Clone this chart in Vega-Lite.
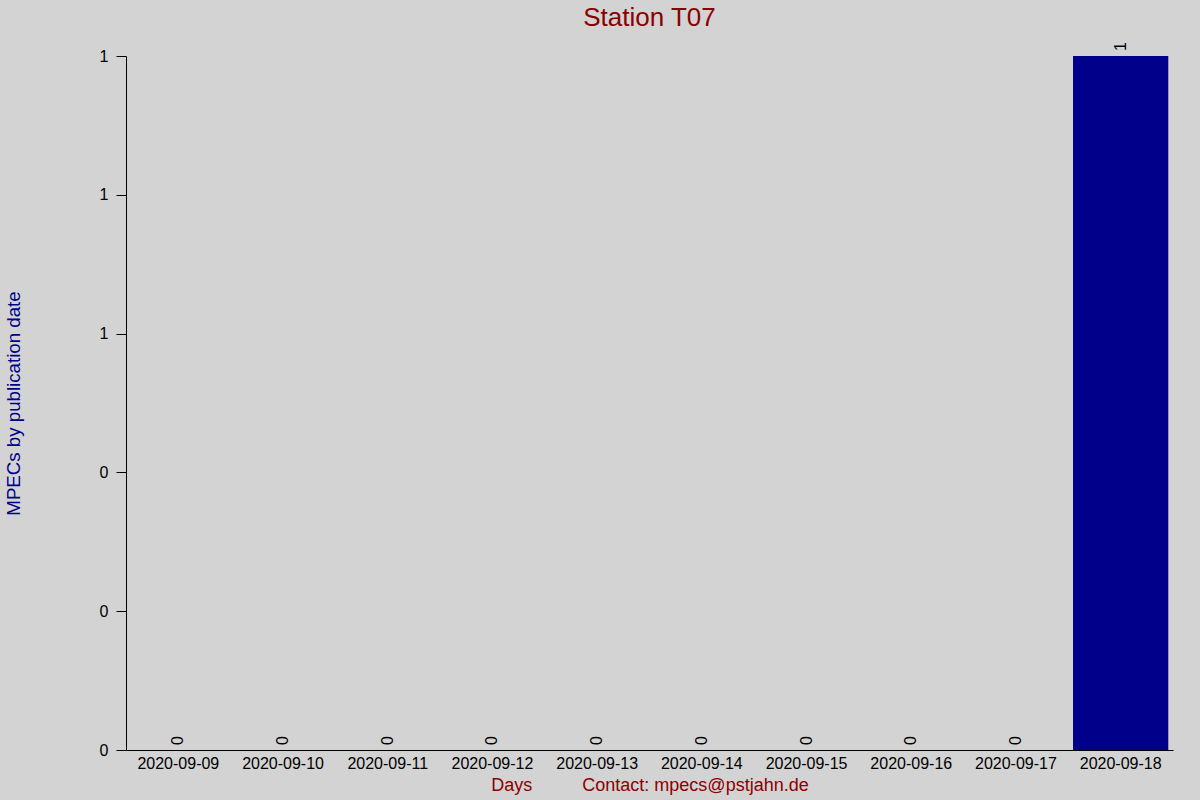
{
  "$schema": "https://vega.github.io/schema/vega-lite/v6.json",
  "width": 1047,
  "height": 694,
  "autosize": {"type": "none"},
  "padding": {"left": 126, "top": 56, "right": 27, "bottom": 50},
  "background": "#d3d3d3",
  "config": {
    "view": {"stroke": null},
    "font": "Liberation Sans"
  },
  "title": {
    "text": "Station T07",
    "color": "#8b0000",
    "fontSize": 26,
    "fontWeight": "normal",
    "font": "Liberation Sans",
    "anchor": "middle",
    "frame": "group",
    "offset": 11
  },
  "data": {
    "values": [
      {"day": "2020-09-09", "count": 0},
      {"day": "2020-09-10", "count": 0},
      {"day": "2020-09-11", "count": 0},
      {"day": "2020-09-12", "count": 0},
      {"day": "2020-09-13", "count": 0},
      {"day": "2020-09-14", "count": 0},
      {"day": "2020-09-15", "count": 0},
      {"day": "2020-09-16", "count": 0},
      {"day": "2020-09-17", "count": 0},
      {"day": "2020-09-18", "count": 1}
    ]
  },
  "encoding": {
    "x": {
      "field": "day",
      "type": "ordinal",
      "sort": null,
      "scale": {"paddingInner": 0.09, "paddingOuter": 0.045},
      "axis": {
        "title": "Days\u00a0\u00a0\u00a0\u00a0\u00a0\u00a0\u00a0\u00a0\u00a0\u00a0Contact: mpecs@pstjahn.de",
        "titleColor": "#8b0000",
        "titleFontSize": 18,
        "titleFontWeight": "normal",
        "titlePadding": 5,
        "labelAngle": 0,
        "labelFontSize": 16,
        "labelColor": "#000000",
        "labelPadding": 5,
        "ticks": false,
        "domainColor": "#000000",
        "domainWidth": 1,
        "grid": false
      }
    },
    "y": {
      "field": "count",
      "type": "quantitative",
      "scale": {"domain": [0, 1], "nice": false},
      "axis": {
        "title": "MPECs by publication date",
        "titleColor": "#00008b",
        "titleFontSize": 18.7,
        "titleFontWeight": "normal",
        "titlePadding": 76,
        "values": [0, 0.2, 0.4, 0.6, 0.8, 1],
        "format": ".0f",
        "labelFontSize": 16,
        "labelColor": "#000000",
        "labelPadding": 8,
        "tickSize": 10,
        "tickColor": "#000000",
        "domainColor": "#000000",
        "grid": false
      }
    }
  },
  "layer": [
    {
      "mark": {"type": "bar", "color": "#00008b"}
    },
    {
      "mark": {
        "type": "text",
        "angle": 270,
        "align": "left",
        "baseline": "middle",
        "dx": 5,
        "fontSize": 16,
        "color": "#000000"
      },
      "encoding": {
        "text": {"field": "count", "type": "quantitative"}
      }
    }
  ]
}
